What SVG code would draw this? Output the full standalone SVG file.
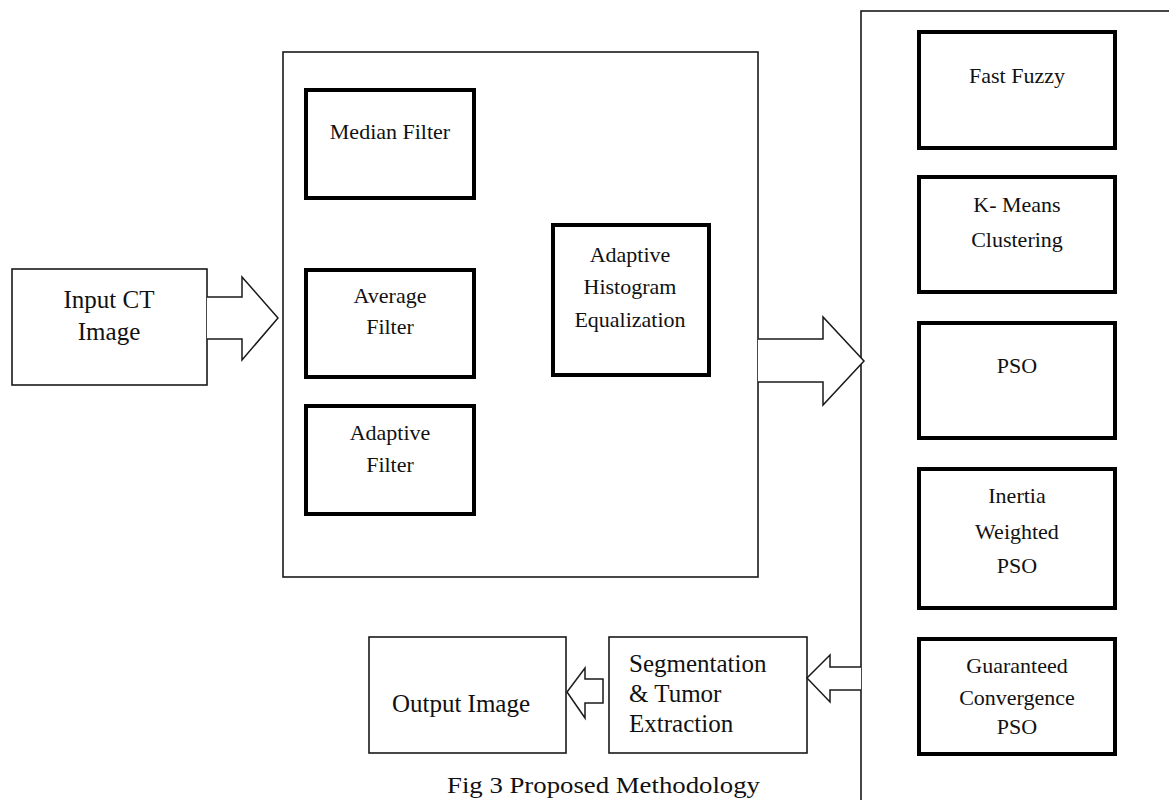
<svg xmlns="http://www.w3.org/2000/svg" width="1169" height="800" viewBox="0 0 1169 800">
  <style>
    .thin { fill: #fff; stroke: #1a1a1a; stroke-width: 1.6; }
    .thick { fill: #fff; stroke: #000; stroke-width: 4; }
    .arrow { fill: #fff; stroke: #1a1a1a; stroke-width: 1.5; stroke-linejoin: miter; }
    .lbl { font-family: "Liberation Serif", "Times New Roman", serif; fill: #111; }
    .big { font-size: 25px; }
    .inner { font-size: 22px; }
    .mid { text-anchor: middle; }
  </style>

  <rect width="1169" height="800" fill="#fff"/>

  <!-- containers -->
  <g id="preprocessing">
    <rect class="thin" x="283" y="52" width="475" height="525"/>
  </g>
  <g id="segmentation-methods">
    <rect class="thin" x="861" y="11" width="330" height="820"/>
  </g>

  <!-- input -->
  <g id="input-ct-image">
    <rect class="thin" x="12" y="269" width="195" height="116"/>
    <text class="lbl big mid" x="109" y="308">Input CT</text>
    <text class="lbl big mid" x="109" y="340">Image</text>
  </g>

  <!-- filters -->
  <g id="median-filter">
    <rect class="thick" x="306" y="90" width="168" height="108"/>
    <text class="lbl inner mid" x="390" y="139">Median Filter</text>
  </g>
  <g id="average-filter">
    <rect class="thick" x="306" y="270" width="168" height="107"/>
    <text class="lbl inner mid" x="390" y="303">Average</text>
    <text class="lbl inner mid" x="390" y="334">Filter</text>
  </g>
  <g id="adaptive-filter">
    <rect class="thick" x="306" y="406" width="168" height="108"/>
    <text class="lbl inner mid" x="390" y="440">Adaptive</text>
    <text class="lbl inner mid" x="390" y="472">Filter</text>
  </g>
  <g id="adaptive-histogram-equalization">
    <rect class="thick" x="553" y="225" width="156" height="150"/>
    <text class="lbl inner mid" x="630" y="262">Adaptive</text>
    <text class="lbl inner mid" x="630" y="294">Histogram</text>
    <text class="lbl inner mid" x="630" y="327">Equalization</text>
  </g>

  <!-- clustering / optimisation methods -->
  <g id="fast-fuzzy">
    <rect class="thick" x="919" y="32" width="196" height="116"/>
    <text class="lbl inner mid" x="1017" y="83">Fast Fuzzy</text>
  </g>
  <g id="k-means">
    <rect class="thick" x="919" y="177" width="196" height="115"/>
    <text class="lbl inner mid" x="1017" y="212">K- Means</text>
    <text class="lbl inner mid" x="1017" y="247">Clustering</text>
  </g>
  <g id="pso">
    <rect class="thick" x="919" y="323" width="196" height="115"/>
    <text class="lbl inner mid" x="1017" y="373">PSO</text>
  </g>
  <g id="inertia-weighted-pso">
    <rect class="thick" x="919" y="469" width="196" height="139"/>
    <text class="lbl inner mid" x="1017" y="503">Inertia</text>
    <text class="lbl inner mid" x="1017" y="539">Weighted</text>
    <text class="lbl inner mid" x="1017" y="573">PSO</text>
  </g>
  <g id="guaranteed-convergence-pso">
    <rect class="thick" x="919" y="639" width="196" height="115"/>
    <text class="lbl inner mid" x="1017" y="673">Guaranteed</text>
    <text class="lbl inner mid" x="1017" y="705">Convergence</text>
    <text class="lbl inner mid" x="1017" y="734">PSO</text>
  </g>

  <!-- outputs -->
  <g id="segmentation-tumor-extraction">
    <rect class="thin" x="609" y="637" width="198" height="116"/>
    <text class="lbl big" x="629" y="672">Segmentation</text>
    <text class="lbl big" x="629" y="702">&amp; Tumor</text>
    <text class="lbl big" x="629" y="732">Extraction</text>
  </g>
  <g id="output-image">
    <rect class="thin" x="369" y="637" width="197" height="116"/>
    <text class="lbl big mid" x="461" y="712">Output Image</text>
  </g>

  <!-- block arrows -->
  <g id="connectors">
    <polyline class="arrow" points="207,297 242,297 242,277 278,318 242,360 242,339 207,339"/>
    <polyline class="arrow" points="758,339 823,339 823,317 864,361 823,405 823,382 758,382"/>
    <polyline class="arrow" points="861,667 830,667 830,655 807,678 830,702 830,690 861,690"/>
    <polygon class="arrow" points="603,679 585,679 585,668 567,692 585,718 585,703 603,703"/>
  </g>

  <!-- caption -->
  <text class="lbl" x="447" y="793" font-size="24" textLength="313" lengthAdjust="spacingAndGlyphs">Fig 3 Proposed Methodology</text>
</svg>
